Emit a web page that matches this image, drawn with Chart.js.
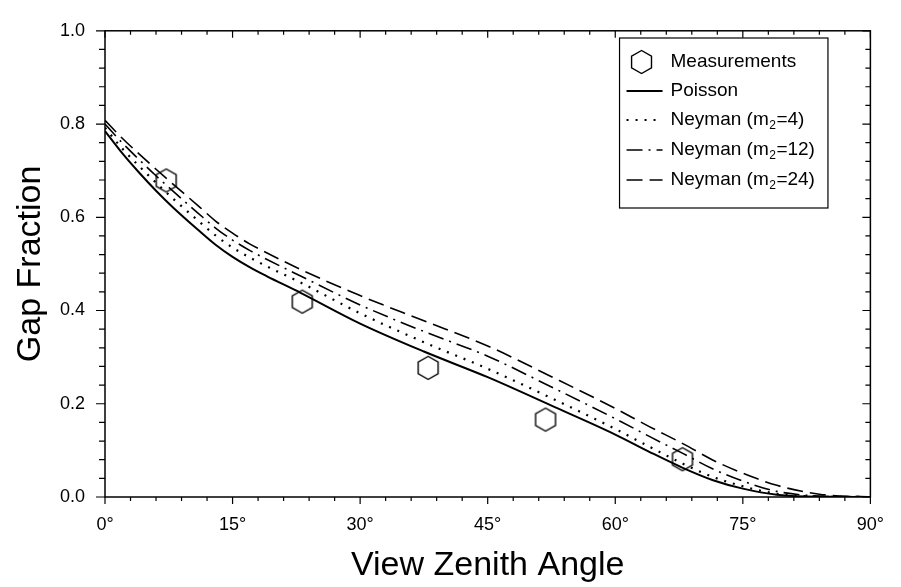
<!DOCTYPE html>
<html>
<head>
<meta charset="utf-8">
<script src="https://cdn.jsdelivr.net/npm/chart.js@4/dist/chart.umd.min.js"></script>
<style>
  html, body { margin: 0; padding: 0; background: #fff; }
  canvas { display: block; }
</style>
</head>
<body>
<canvas id="gap" width="901" height="587"></canvas>
<script>
// View zenith angles (degrees) at which the model curves are tabulated
const modelAngles = [0, 2, 4, 6, 8, 11, 13, 15, 17, 19, 23, 30, 37.5, 45, 52.5, 60, 64, 68, 71.5, 75, 79, 84, 90];
// Modelled gap fraction
const poisson  = [0.785, 0.738, 0.696, 0.657, 0.621, 0.572, 0.541, 0.515, 0.493, 0.474, 0.438, 0.372, 0.312, 0.257, 0.196, 0.134, 0.097, 0.062, 0.036, 0.018, 0.005, 0.0005, 0];
const neyman4  = [0.792, 0.748, 0.710, 0.674, 0.640, 0.592, 0.561, 0.535, 0.514, 0.495, 0.460, 0.394, 0.332, 0.275, 0.212, 0.146, 0.108, 0.071, 0.043, 0.023, 0.007, 0.001, 0];
const neyman12 = [0.800, 0.760, 0.724, 0.689, 0.656, 0.608, 0.577, 0.551, 0.529, 0.510, 0.474, 0.412, 0.355, 0.302, 0.236, 0.168, 0.130, 0.093, 0.060, 0.034, 0.012, 0.002, 0];
const neyman24 = [0.808, 0.770, 0.736, 0.703, 0.671, 0.624, 0.592, 0.566, 0.543, 0.524, 0.488, 0.432, 0.378, 0.324, 0.258, 0.190, 0.151, 0.114, 0.079, 0.051, 0.025, 0.006, 0];
// Measured gap fraction
const measAngles = [7.2, 23.2, 38.0, 51.8, 67.9];
const measured   = [0.679, 0.419, 0.277, 0.166, 0.081];
// Axis ticks
const xTicks = [0, 15, 30, 45, 60, 75, 90];
const yTicks = [0, 0.2, 0.4, 0.6, 0.8, 1.0];
// Legend labels: [main text, subscript, trailing text]
const legendLabels = [
  ['Measurements', '', ''],
  ['Poisson', '', ''],
  ['Neyman (m', '2', '=4)'],
  ['Neyman (m', '2', '=12)'],
  ['Neyman (m', '2', '=24)']
];

const FONT = '"Liberation Sans", Arial, Helvetica, sans-serif';
const INK = '#000';

// Hollow hexagon marker (pointy top)
function hexPath(ctx, cx, cy, r) {
  ctx.beginPath();
  for (let i = 0; i < 6; i++) {
    const a = Math.PI / 2 + i * Math.PI / 3;
    const px = cx + r * Math.cos(a), py = cy - r * Math.sin(a);
    if (i === 0) ctx.moveTo(px, py); else ctx.lineTo(px, py);
  }
  ctx.closePath();
}
const HEX_R = 11.5;
const hexMarker = document.createElement('canvas');
hexMarker.width = 28; hexMarker.height = 28;
(function () {
  const c = hexMarker.getContext('2d');
  c.strokeStyle = INK; c.lineWidth = 1.4;
  hexPath(c, 14, 14, HEX_R);
  c.stroke();
})();

const zip = (xs, ys) => xs.map((x, i) => ({ x, y: ys[i] }));

const lineStyle = (label, data, dash, width) => ({
  label, data: zip(modelAngles, data),
  borderColor: INK, borderWidth: width, borderDash: dash,
  pointRadius: 0, fill: false, cubicInterpolationMode: 'monotone'
});

const datasets = [
  {
    label: 'Measurements', data: zip(measAngles, measured),
    showLine: false, pointStyle: hexMarker, pointRadius: 12,
    borderColor: INK, backgroundColor: 'transparent'
  },
  lineStyle('Poisson', poisson, [], 2),
  lineStyle('Neyman (m2=4)', neyman4, [2, 7], 2.2),
  lineStyle('Neyman (m2=12)', neyman12, [16, 6, 2, 6], 1.6),
  lineStyle('Neyman (m2=24)', neyman24, [16, 7], 1.6)
];

// Legend text with a lowered, smaller subscript
function labelWidth(ctx, parts, size) {
  ctx.font = size + 'px ' + FONT;
  let w = ctx.measureText(parts[0]).width + ctx.measureText(parts[2]).width;
  if (parts[1]) {
    ctx.font = Math.round(size * 0.62) + 'px ' + FONT;
    w += ctx.measureText(parts[1]).width + 1;
  }
  return w;
}
function drawLabel(ctx, parts, x, y, size) {
  ctx.font = size + 'px ' + FONT;
  ctx.fillText(parts[0], x, y);
  x += ctx.measureText(parts[0]).width;
  if (parts[1]) {
    ctx.font = Math.round(size * 0.62) + 'px ' + FONT;
    ctx.fillText(parts[1], x + 0.5, y + size * 0.28);
    x += ctx.measureText(parts[1]).width + 1;
    ctx.font = size + 'px ' + FONT;
    ctx.fillText(parts[2], x, y);
  }
}

// Frame, minor/major tick marks and the boxed legend
const framePlugin = {
  id: 'frame',
  afterDraw(chart) {
    const { ctx, chartArea: a, scales: { x, y } } = chart;
    ctx.save();
    ctx.strokeStyle = INK;
    ctx.lineWidth = 1.5;
    ctx.strokeRect(a.left, a.top, a.right - a.left, a.bottom - a.top);

    ctx.lineWidth = 1.2;
    ctx.beginPath();
    for (let k = 0; k <= 30; k++) {           // every 3 degrees
      const deg = k * 3, px = x.getPixelForValue(deg);
      const major = deg % 15 === 0;
      ctx.moveTo(px, a.bottom); ctx.lineTo(px, a.bottom + (major ? 7 : 4));
      ctx.moveTo(px, a.top);    ctx.lineTo(px, a.top + (major ? 7 : 4));
    }
    for (let k = 0; k <= 25; k++) {           // every 0.04
      const v = k * 0.04, py = y.getPixelForValue(v);
      const major = k % 5 === 0;
      ctx.moveTo(a.left, py);  ctx.lineTo(a.left - (major ? 9 : 6), py);
      ctx.moveTo(a.right, py); ctx.lineTo(a.right - (major ? 8 : 5), py);
    }
    ctx.stroke();

    // legend box
    const size = 19;
    const textW = Math.max(...legendLabels.map(p => labelWidth(ctx, p, size)));
    const tx = x.getPixelForValue(66.5);
    const sx1 = tx - 8, sx0 = sx1 - 36;
    const box = { l: sx0 - 7, r: tx + textW + 13, t: 38, b: 208 };
    ctx.fillStyle = '#fff';
    ctx.fillRect(box.l, box.t, box.r - box.l, box.b - box.t);
    ctx.lineWidth = 1.2;
    ctx.strokeRect(box.l, box.t, box.r - box.l, box.b - box.t);
    const rows = [62, 91, 120, 150, 180];
    ctx.fillStyle = INK;
    ctx.textBaseline = 'middle';
    chart.data.datasets.forEach((ds, i) => {
      const ry = rows[i];
      if (i === 0) {
        ctx.lineWidth = 1.4; ctx.setLineDash([]);
        hexPath(ctx, (sx0 + sx1) / 2 - 3, ry, HEX_R);
        ctx.stroke();
      } else {
        ctx.lineWidth = ds.borderWidth;
        ctx.setLineDash(ds.borderDash);
        ctx.beginPath(); ctx.moveTo(sx0, ry); ctx.lineTo(sx1, ry); ctx.stroke();
        ctx.setLineDash([]);
      }
      drawLabel(ctx, legendLabels[i], tx, ry, size);
    });
    ctx.restore();
  }
};

new Chart(document.getElementById('gap'), {
  type: 'line',
  data: { datasets },
  plugins: [framePlugin],
  options: {
    responsive: false,
    animation: false,
    devicePixelRatio: 1,
    layout: { padding: { top: 17, right: 16, left: 0, bottom: 0 } },
    plugins: { legend: { display: false }, tooltip: { enabled: false } },
    scales: {
      x: {
        type: 'linear', min: 0, max: 90,
        afterFit: s => { s.height = 90; },
        afterBuildTicks: s => { s.ticks = xTicks.map(v => ({ value: v })); },
        grid: { display: false, drawTicks: false },
        border: { display: false },
        ticks: { padding: 17, color: INK, font: { family: FONT, size: 18 }, maxRotation: 0,
                 callback: v => v + '°' },
        title: { display: true, text: 'View Zenith Angle', color: INK,
                 font: { family: FONT, size: 34 }, padding: { bottom: 1 } }
      },
      y: {
        type: 'linear', min: 0, max: 1,
        afterFit: s => { s.width = 105; },
        afterBuildTicks: s => { s.ticks = yTicks.map(v => ({ value: v })); },
        grid: { display: false, drawTicks: false },
        border: { display: false },
        ticks: { padding: 20, color: INK, font: { family: FONT, size: 18 },
                 callback: v => Number(v).toFixed(1) },
        title: { display: true, text: 'Gap Fraction', color: INK,
                 font: { family: FONT, size: 34 }, padding: { top: 10 } }
      }
    }
  }
});
</script>
</body>
</html>
